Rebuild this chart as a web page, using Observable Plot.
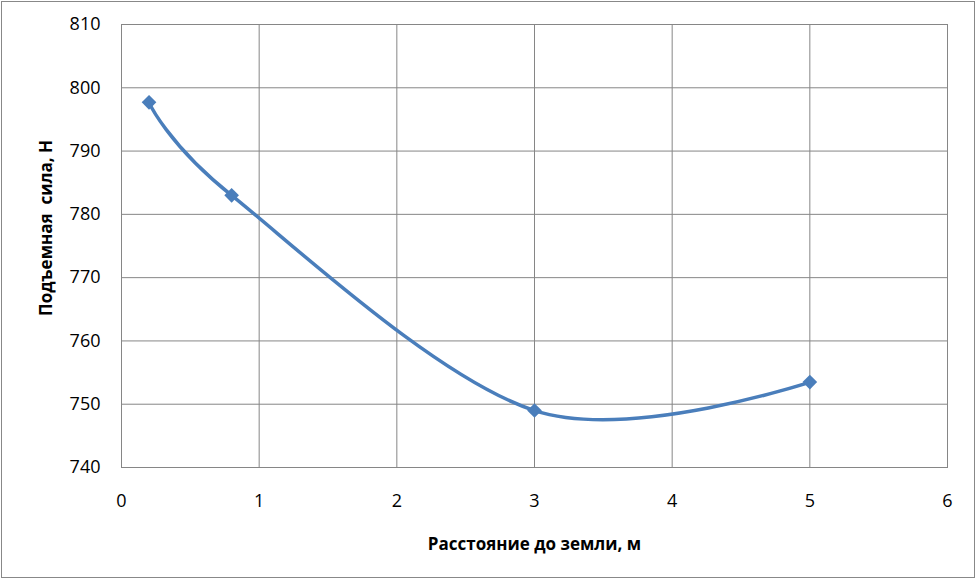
<!DOCTYPE html>
<html>
<head>
<meta charset="utf-8">
<script src="https://cdn.jsdelivr.net/npm/d3@7"></script>
<script src="https://cdn.jsdelivr.net/npm/@observablehq/plot@0.6"></script>
<style>
  html, body { margin: 0; padding: 0; background: #fff; }
  #chart svg { display: block; outline: 1px solid #888; outline-offset: -2px; }
</style>
</head>
<body>
<div id="chart"></div>
<script>
const distance = [0.2, 0.8, 3, 5];
const lift = [797.7, 783, 749, 753.5];
const xTicks = [0, 1, 2, 3, 4, 5, 6];
const yTicks = [740, 750, 760, 770, 780, 790, 800, 810];
const xTitle = "Расстояние до земли, м";
const yTitle = "Подъемная  сила, Н";

const data = distance.map((d, i) => ({x: d, y: lift[i]}));
const gridColor = "#868686";
const blue = "#4A7EBB";
const font = "'Open Sans', Calibri, sans-serif";

const chart = Plot.plot({
  width: 976,
  height: 579,
  marginLeft: 121,
  marginRight: 29,
  marginTop: 24,
  marginBottom: 112,
  style: {fontFamily: font, fontSize: "18px", color: "#000", background: "#fff"},
  x: {domain: [0, 6]},
  y: {domain: [740, 810]},
  marks: [
    Plot.gridX(xTicks, {stroke: gridColor, strokeOpacity: 1}),
    Plot.gridY(yTicks, {stroke: gridColor, strokeOpacity: 1}),
    Plot.frame({stroke: gridColor}),
    Plot.axisX(xTicks, {tickSize: 0, tickPadding: 27, tickFormat: "d", label: null, fill: "#000", fontSize: 18}),
    Plot.axisY(yTicks, {tickSize: 0, tickPadding: 21, tickFormat: "d", label: null, fill: "#000", fontSize: 18}),
    Plot.line(data, {x: "x", y: "y", curve: "cardinal", stroke: blue, strokeWidth: 3.5}),
    Plot.dot(data, {x: "x", y: "y", symbol: "diamond2", r: 6.6, fill: blue, stroke: null}),
    Plot.text([xTitle], {frameAnchor: "bottom", dy: 82, textAnchor: "middle", fontWeight: "bold", fontSize: 17, fill: "#000"}),
    Plot.text([yTitle], {frameAnchor: "left", dx: -75, dy: -18, textAnchor: "middle", rotate: -90, fontWeight: "bold", fontSize: 17, fill: "#000"})
  ]
});
document.getElementById("chart").append(chart);
</script>
</body>
</html>
